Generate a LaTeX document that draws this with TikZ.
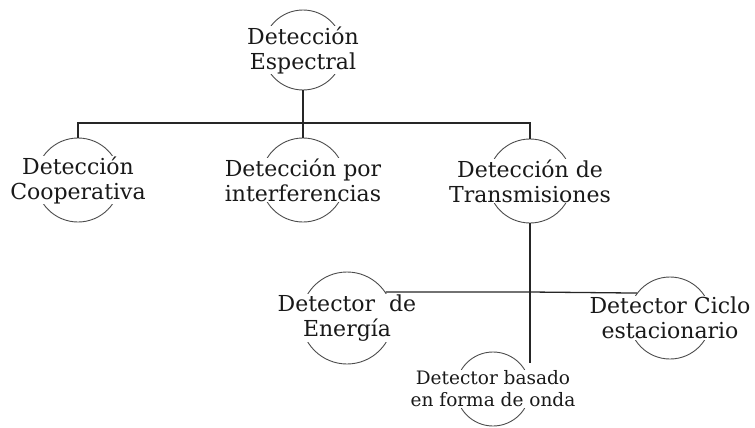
\documentclass[tikz,border=0pt]{standalone}
\usepackage{fontspec}
\setmainfont{DejaVu Serif}

\begin{document}
\begin{tikzpicture}[x=1pt, y=-1pt,
    ring/.style={draw=black!70, line width=0.9pt, circle, minimum size=#1, inner sep=0pt},
    txt/.style={fill=white, inner sep=0.5pt, align=center, text=black!90, font=\fontsize{22}{25}\selectfont},
    conn/.style={line width=1.3pt, black!85}]
    \useasboundingbox (0,0) rectangle (755,428);

    % circles
    \node[ring=80] (espc) at (303,50) {};
    \node[ring=84] (coop) at (78,180) {};
    \node[ring=84] (interf) at (303,180) {};
    \node[ring=84] (trans) at (530,181) {};
    \node[ring=92] (energ) at (347,318) {};
    \node[ring=82] (ciclo) at (670,318) {};
    \node[ring=74] (onda) at (493,389) {};

    \coordinate (bus) at (303,123);
    \coordinate (bus2) at (530,292);

    % connectors
    \draw[conn, line width=2pt] (espc.south) -- (bus);
    \draw[conn] (coop.north) -- (coop.north |- bus) -- (trans.north |- bus) -- (trans.north);
    \draw[conn] (interf.north) -- (interf.north |- bus);
    \draw[conn] (trans.south) -- (bus2) -- (bus2 |- onda.north east);
    \draw[conn] (energ.34) -- (bus2) -- (ciclo.143);

    % texts
    \node[txt] (espcT) at (espc) {Detección\\Espectral};
    \node[txt] (coopT) at (coop) {Detección\\Cooperativa};
    \node[txt] (interfT) at (interf) {Detección por\\interferencias};
    \node[txt] (transT) at (trans) {Detección de\\Transmisiones};
    \node[txt] (energT) at (energ) {Detector\ \ de\\Energía};
    \node[txt] (cicloT) at (ciclo) {Detector Ciclo\\estacionario};
    \node[txt, font=\fontsize{18.5}{22}\selectfont] (ondaT) at (onda) {Detector basado\\en forma de onda};
\end{tikzpicture}
\end{document}
